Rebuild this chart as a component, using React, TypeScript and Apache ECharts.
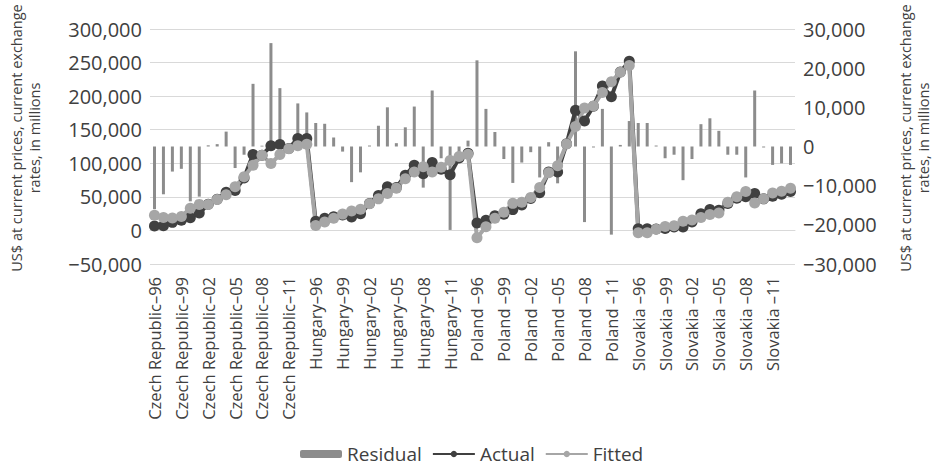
import React, { useEffect, useRef } from 'react';
import * as echarts from 'echarts';

// Category pieces
const countries = ['Czech Republic–', 'Hungary–', 'Poland –', 'Slovakia –'];
const years = ['96', '97', '98', '99', '00', '01', '02', '03', '04', '05', '06', '07', '08', '09', '10', '11', '12', '13'];

// Actual values (US$ millions)
const czechActual = [6500, 7000, 12000, 15000, 19000, 26000, 39000, 46500, 57000, 59500, 78000, 113000, 112000, 126000, 128000, 122000, 137000, 137000];
const hungaryActual = [13500, 18000, 20500, 23000, 20000, 25000, 40000, 52000, 65000, 64000, 82000, 97000, 84500, 101000, 91000, 83000, 108000, 115000];
const polandActual = [11000, 15000, 22000, 24000, 31000, 38000, 47500, 56000, 87000, 87000, 129000, 179000, 163000, 185000, 215000, 199000, 236000, 252000];
const slovakiaActual = [2500, 2500, 2000, 3000, 5000, 5000, 12400, 25000, 31000, 30000, 40000, 48000, 50000, 55000, 47000, 51000, 54000, 58000];

// Fitted values
const czechFitted = [22500, 19200, 18400, 20700, 33000, 38800, 38700, 45900, 53200, 65000, 80100, 97000, 111800, 99600, 113100, 121700, 126000, 128300];
const hungaryFitted = [7500, 12500, 18200, 24300, 29000, 31600, 39800, 47000, 55000, 63000, 77000, 87000, 95000, 87000, 94000, 104000, 110000, 113500];
const polandFitted = [-11000, 5400, 18300, 27200, 40300, 42100, 49000, 63900, 85900, 96400, 128800, 154700, 182300, 185300, 205400, 221500, 235600, 245500];
const slovakiaFitted = [-3500, -3500, 1800, 6000, 7100, 13600, 15600, 19300, 23800, 26000, 42100, 50100, 58000, 40700, 47300, 55700, 58300, 62700];

// Residuals
const czechResidual = [-16000, -12200, -6400, -5700, -14000, -12800, 300, 600, 3800, -5500, -2100, 16000, 200, 26400, 14900, 300, 11000, 8700];
const hungaryResidual = [6000, 5800, 2300, -1300, -9100, -6600, 250, 5300, 10000, 850, 4900, 10200, -10500, 14300, -3000, -21300, -1700, 1500];
const polandResidual = [22000, 9600, 3700, -3200, -9300, -4100, -1450, -7900, 1100, -9400, 200, 24300, -19300, -250, 9600, -22500, 400, 6500];
const slovakiaResidual = [6000, 6000, 250, -3000, -2100, -8600, -3200, 5700, 7200, 4000, -2100, -2100, -7900, 14300, -250, -4700, -4300, -4700];

// Axis ticks
const leftMin = -50000, leftMax = 300000, leftStep = 50000;
const rightMin = -30000, rightMax = 30000, rightStep = 10000;

const categories = countries.flatMap((c) => years.map((y) => c + y));
const actual = [...czechActual, ...hungaryActual, ...polandActual, ...slovakiaActual];
const fitted = [...czechFitted, ...hungaryFitted, ...polandFitted, ...slovakiaFitted];
const residual = [...czechResidual, ...hungaryResidual, ...polandResidual, ...slovakiaResidual];

const fmt = (v: number) => {
  const s = Math.abs(v).toString().replace(/\B(?=(\d{3})+(?!\d))/g, ',');
  return v < 0 ? '−' + s : s;
};

const FONT = "'Open Sans', 'Noto Sans', sans-serif";
const TXT = '#404040';
const TITLE = 'US$ at current prices, current exchange\nrates, in millions';

const titleText = (x: number) => ({
  type: 'text',
  x,
  y: 138,
  rotation: Math.PI / 2,
  style: {
    text: TITLE,
    fill: TXT,
    font: `14.5px ${FONT}`,
    lineHeight: 18,
    align: 'center',
    verticalAlign: 'middle',
  },
});

export default function App() {
  const ref = useRef<HTMLDivElement>(null);
  useEffect(() => {
    document.body.style.margin = '0';
    if (!ref.current) return;
    const chart = echarts.init(ref.current, undefined, { renderer: 'svg' });
    chart.setOption({
      animation: false,
      textStyle: { fontFamily: FONT },
      grid: { left: 150, right: 149, top: 29, bottom: 205 },
      graphic: [titleText(25), titleText(914)],
      legend: {
        data: ['Residual', 'Actual', 'Fitted'],
        left: 300,
        top: 444,
        padding: 0,
        itemWidth: 42,
        itemHeight: 8,
        itemGap: 10,
        textStyle: { fontSize: 19, color: TXT, fontFamily: FONT, lineHeight: 20 },
      },
      xAxis: {
        type: 'category',
        data: categories,
        axisLine: { onZero: true, lineStyle: { color: '#d9d9d9', width: 1 } },
        axisTick: { show: false },
        axisLabel: { interval: 2, rotate: 90, margin: 13, fontSize: 16.5, color: TXT, fontFamily: FONT },
        splitLine: { show: false },
      },
      yAxis: [
        {
          type: 'value',
          min: leftMin,
          max: leftMax,
          interval: leftStep,
          axisLabel: { formatter: fmt, fontSize: 20, color: TXT, margin: 8, fontFamily: FONT },
          axisLine: { show: false },
          axisTick: { show: false },
          splitLine: { lineStyle: { color: '#d9d9d9', width: 1 } },
        },
        {
          type: 'value',
          position: 'right',
          min: rightMin,
          max: rightMax,
          interval: rightStep,
          axisLabel: { formatter: fmt, fontSize: 20, color: TXT, margin: 8, fontFamily: FONT },
          axisLine: { show: false },
          axisTick: { show: false },
          splitLine: { show: false },
        },
      ],
      series: [
        {
          name: 'Residual',
          type: 'bar',
          yAxisIndex: 1,
          data: residual,
          barWidth: 3,
          itemStyle: { color: '#8c8c8c' },
        },
        {
          name: 'Actual',
          type: 'line',
          yAxisIndex: 0,
          data: actual,
          symbol: 'circle',
          symbolSize: 11,
          showSymbol: true,
          showAllSymbol: true,
          lineStyle: { color: '#404040', width: 4 },
          itemStyle: { color: '#404040' },
        },
        {
          name: 'Fitted',
          type: 'line',
          yAxisIndex: 0,
          data: fitted,
          symbol: 'circle',
          symbolSize: 11,
          showSymbol: true,
          showAllSymbol: true,
          lineStyle: { color: '#a6a6a6', width: 4 },
          itemStyle: { color: '#a6a6a6' },
        },
      ],
    });
    return () => chart.dispose();
  }, []);
  return <div ref={ref} style={{ width: 944, height: 469 }} />;
}
